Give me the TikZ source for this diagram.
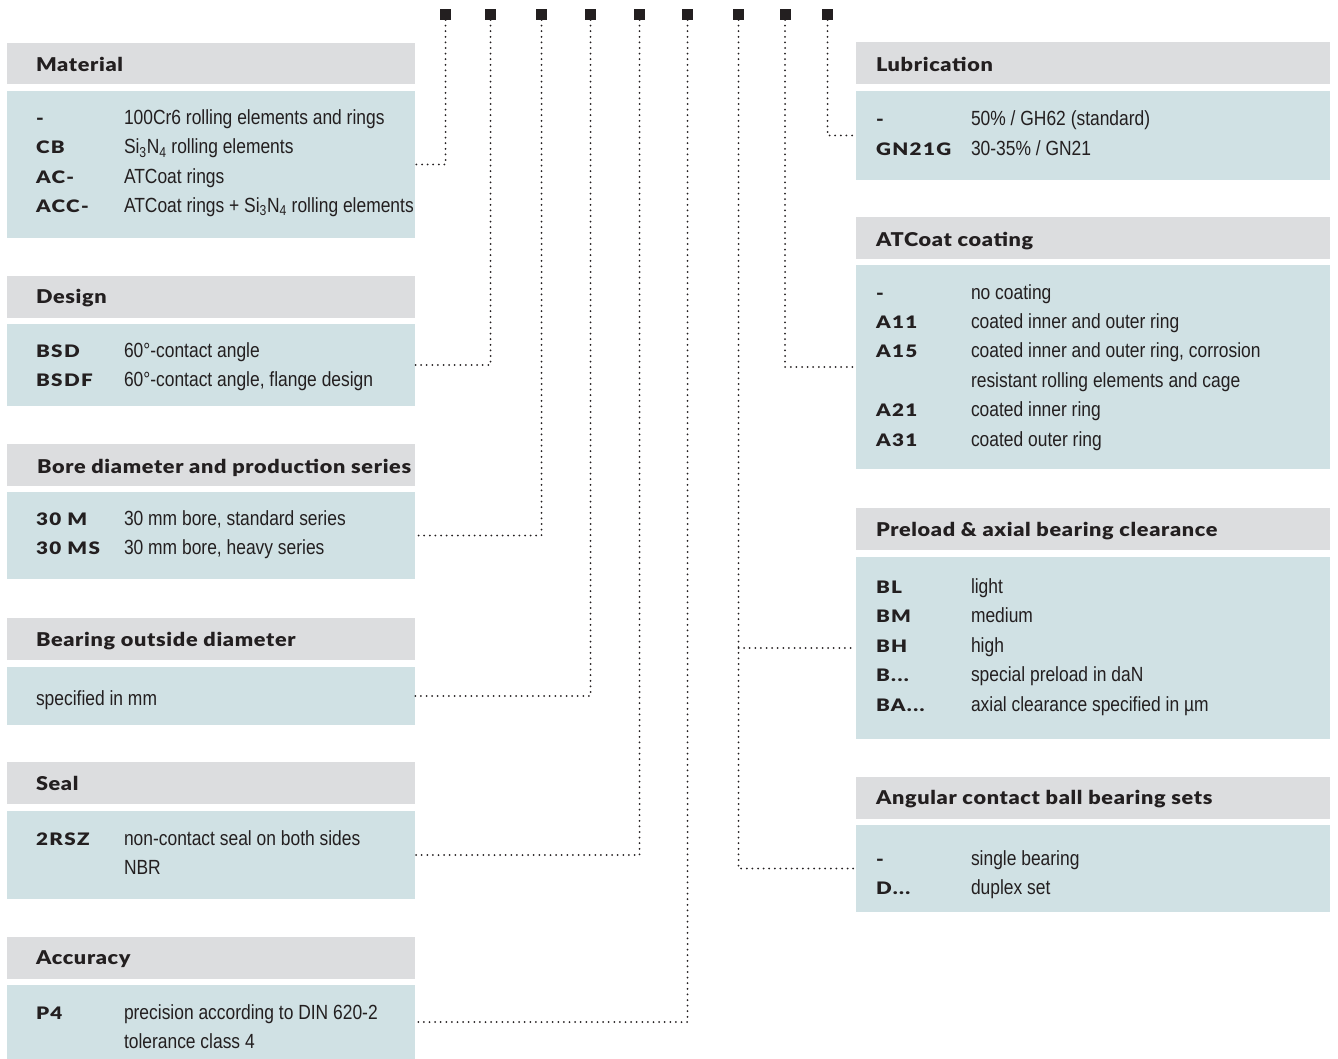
\documentclass[tikz,border=0pt]{standalone}
\usepackage{fontspec}
\usepackage{array}
\setmainfont{Liberation Sans}[FakeStretch=0.85]
\newfontfamily\titlefont{Lato Black}[FakeStretch=1.14, LetterSpace=3.5]
\newfontfamily\codefont{Lato Black}[FakeStretch=1.2, LetterSpace=8]
\usetikzlibrary{positioning}
\definecolor{headgray}{HTML}{DCDDDF}
\definecolor{bodyblue}{HTML}{D0E1E4}
\definecolor{ink}{HTML}{231F20}
\tikzstyle{sq} = [fill=ink, minimum size=11pt]
\tikzstyle{head} = [fill=headgray, anchor=north west, minimum height=42pt]
\tikzstyle{body} = [fill=bodyblue, anchor=north west]
\tikzstyle{lcol} = [minimum width=408pt]
\tikzstyle{rcol} = [minimum width=474pt]
\tikzstyle{title} = [anchor=base west, font=\titlefont\fontsize{19}{22}\selectfont]
\tikzstyle{rows} = [anchor=base west, font=\fontsize{20.5}{29.4}\selectfont]
\tikzstyle{leader} = [ink, line width=2pt, line cap=round, dash pattern=on 0pt off 5.6pt]
\newcolumntype{C}[1]{>{\codefont\fontsize{17.2}{29.4}\selectfont}p{#1}}

\begin{document}
\begin{tikzpicture}[x=1pt, y=-1pt, every node/.style={inner sep=0pt, outer sep=0pt, text=ink}]
        \useasboundingbox (0,0) rectangle (1338,1059);
        % Code squares
        \node[sq] (s1) at (445.5,14.5) {};
        \node[sq] (s2) at (490.5,14.5) {};
        \node[sq] (s3) at (541.5,14.5) {};
        \node[sq] (s4) at (590.5,14.5) {};
        \node[sq] (s5) at (639.5,14.5) {};
        \node[sq] (s6) at (687.5,14.5) {};
        \node[sq] (s7) at (738.5,14.5) {};
        \node[sq] (s8) at (785,14.5) {};
        \node[sq] (s9) at (827.5,14.5) {};

        % Left column
        \node[head, lcol, minimum height=41pt] (mathead) at (7,43) {};
        \node[title] (mattitle) at (36,72) {Material};
        \node[body, lcol, minimum height=147pt] (matbody) at (7,91) {};
        \node[rows] (matrows) at (36,124.5) {\begin{tabular}[t]{@{}C{88pt}@{}l@{}}
            - & 100Cr6 rolling elements and rings\\
            CB & Si\textsubscript{3}N\textsubscript{4} rolling elements\\
            AC- & ATCoat rings\\
            ACC- & ATCoat rings + Si\textsubscript{3}N\textsubscript{4} rolling elements
          \end{tabular}};

        \node[head, lcol] (deshead) at (7,276) {};
        \node[title] (destitle) at (36,303.5) {Design};
        \node[body, lcol, minimum height=82pt] (desbody) at (7,324) {};
        \node[rows] (desrows) at (36,357.5) {\begin{tabular}[t]{@{}C{88pt}@{}l@{}}
            BSD & 60°-contact angle\\
            BSDF & 60°-contact angle, flange design
          \end{tabular}};

        \node[head, lcol] (borhead) at (7,444) {};
        \node[title] (bortitle) at (37,473) {Bore diameter and production series};
        \node[body, lcol, minimum height=87pt] (borbody) at (7,492) {};
        \node[rows] (borrows) at (36,525) {\begin{tabular}[t]{@{}C{88pt}@{}l@{}}
            30 M & 30 mm bore, standard series\\
            30 MS & 30 mm bore, heavy series
          \end{tabular}};

        \node[head, lcol] (outhead) at (7,618) {};
        \node[title] (outtitle) at (36,646) {Bearing outside diameter};
        \node[body, lcol, minimum height=58pt] (outbody) at (7,667) {};
        \node[rows] (outrows) at (36,705.5) {specified in mm};

        \node[head, lcol] (sealhead) at (7,762) {};
        \node[title] (sealtitle) at (36,790) {Seal};
        \node[body, lcol, minimum height=88pt] (sealbody) at (7,811) {};
        \node[rows] (sealrows) at (36,845.5) {\begin{tabular}[t]{@{}C{88pt}@{}l@{}}
            2RSZ & non-contact seal on both sides\\
            & NBR
          \end{tabular}};

        \node[head, lcol] (acchead) at (7,937) {};
        \node[title] (acctitle) at (36,964.5) {Accuracy};
        \node[body, lcol, minimum height=74pt] (accbody) at (7,985) {};
        \node[rows] (accrows) at (36,1019.5) {\begin{tabular}[t]{@{}C{88pt}@{}l@{}}
            P4 & precision according to DIN 620-2\\
            & tolerance class 4
          \end{tabular}};

        % Right column
        \node[head, rcol] (lubhead) at (856,42) {};
        \node[title] (lubtitle) at (876,72) {Lubrication};
        \node[body, rcol, minimum height=89pt] (lubbody) at (856,91) {};
        \node[rows] (lubrows) at (876,126) {\begin{tabular}[t]{@{}C{95pt}@{}l@{}}
            - & 50\% / GH62 (standard)\\
            GN21G & 30-35\% / GN21
          \end{tabular}};

        \node[head, rcol] (atchead) at (856,217) {};
        \node[title] (atctitle) at (876,247) {ATCoat coating};
        \node[body, rcol, minimum height=204pt] (atcbody) at (856,265) {};
        \node[rows] (atcrows) at (876,299) {\begin{tabular}[t]{@{}C{95pt}@{}l@{}}
            - & no coating\\
            A11 & coated inner and outer ring\\
            A15 & coated inner and outer ring, corrosion\\
            & resistant rolling elements and cage\\
            A21 & coated inner ring\\
            A31 & coated outer ring
          \end{tabular}};

        \node[head, rcol] (prehead) at (856,508) {};
        \node[title] (pretitle) at (876,536) {Preload \& axial bearing clearance};
        \node[body, rcol, minimum height=182pt] (prebody) at (856,557) {};
        \node[rows] (prerows) at (876,593.5) {\begin{tabular}[t]{@{}C{95pt}@{}l@{}}
            BL & light\\
            BM & medium\\
            BH & high\\
            B... & special preload in daN\\
            BA... & axial clearance specified in µm
          \end{tabular}};

        \node[head, rcol] (anghead) at (856,777) {};
        \node[title] (angtitle) at (876,804.5) {Angular contact ball bearing sets};
        \node[body, rcol, minimum height=87pt] (angbody) at (856,825) {};
        \node[rows] (angrows) at (876,865) {\begin{tabular}[t]{@{}C{95pt}@{}l@{}}
            - & single bearing\\
            D... & duplex set
          \end{tabular}};

        % Leaders
        \draw[leader] (s1.south) |- (matbody.east);
        \draw[leader] (s2.south) |- (desbody.east);
        \draw[leader] (s3.south) |- (borbody.east);
        \draw[leader] (s4.south) |- (outbody.east);
        \draw[leader] (s5.south) |- (sealbody.east);
        \draw[leader] (s6.south) |- (accbody.east);
        \draw[leader] (s7.south) |- (angbody.west);
        \draw[leader] (s7 |- prebody.west) -- (prebody.west);
        \draw[leader] (s8.south) |- (atcbody.west);
        \draw[leader] (s9.south) |- (lubbody.west);
\end{tikzpicture}
\end{document}
